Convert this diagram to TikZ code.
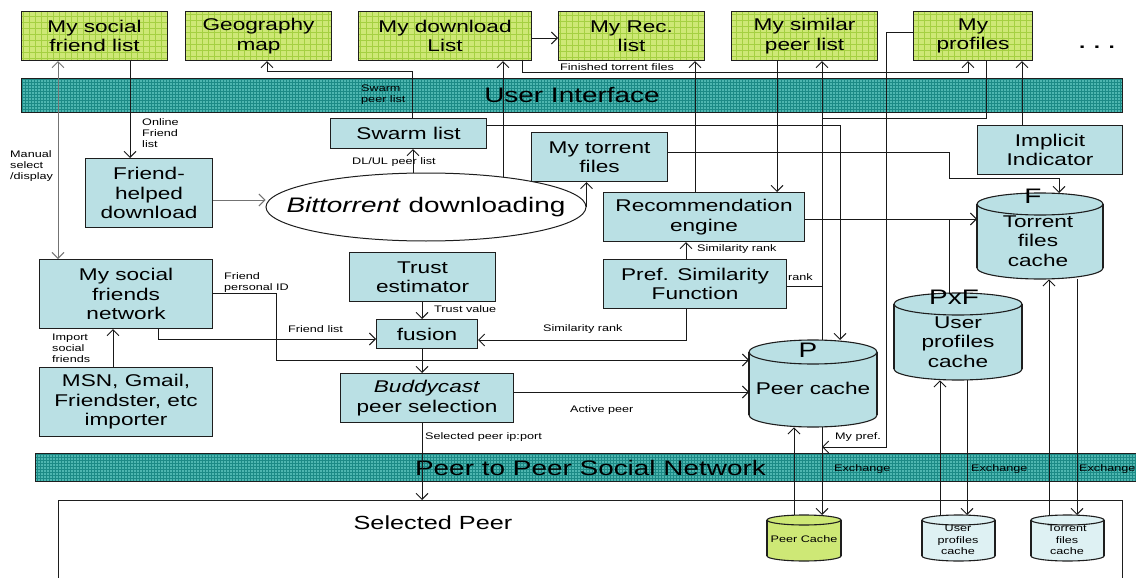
\documentclass[tikz,border=0pt]{standalone}
\usepackage{fontspec}
\setmainfont{Liberation Sans}[FakeStretch=1.33]
\usetikzlibrary{arrows.meta,shapes.geometric}
\definecolor{gfill}{RGB}{206,232,118}
\definecolor{ggrid}{RGB}{165,208,66}
\definecolor{tfill}{RGB}{78,182,176}
\definecolor{tgrid}{RGB}{28,138,134}
\definecolor{bfill}{RGB}{186,224,228}
\definecolor{lfill}{RGB}{222,241,243}
\definecolor{edgec}{RGB}{30,30,30}
\tikzset{
 mybig/.style={font=\fontsize{17}{19.5}\selectfont},
 mysmall/.style={font=\fontsize{9.5}{11}\selectfont},
 bxbase/.style={draw=edgec, line width=1.1pt, inner sep=0pt, align=center, anchor=north west, mybig},
 gbx/.style={bxbase, fill=gfill, path picture={\draw[ggrid, line width=0.35pt] (path picture bounding box.south west) grid[step=6pt] (path picture bounding box.north east);}},
 bbx/.style={bxbase, fill=bfill},
 barx/.style={draw=edgec, line width=1pt, fill=tfill, inner sep=0pt, anchor=north west, font=\fontsize{21}{24}\selectfont, path picture={\draw[tgrid, line width=0.45pt] (path picture bounding box.south west) grid[step=3pt] (path picture bounding box.north east);}},
 cylgeo/.style={inner sep=0pt, anchor=north west},
 lbl/.style={mysmall, anchor=west, inner sep=0pt, align=left},
 ctext/.style={mybig, align=center, inner sep=0pt},
 stext/.style={font=\fontsize{9.5}{11.5}\selectfont, align=center, inner sep=0pt},
 bigl/.style={font=\fontsize{21}{24}\selectfont, inner sep=0pt},
 arr/.style={draw=black!90, line width=0.9pt, -{Straight Barb[length=6pt,width=12pt]}},
 garr/.style={draw=black!55, line width=0.9pt, -{Straight Barb[length=6pt,width=12pt]}},
 darr/.style={draw=black!55, line width=0.9pt, {Straight Barb[length=6pt,width=12pt]}-{Straight Barb[length=6pt,width=12pt]}},
 ln/.style={draw=black!90, line width=0.9pt},
}
\newcommand\drawcyl[6]{%
 \pgfmathsetmacro\cylrx{(#3-#1)/2}%
 \pgfmathsetmacro\cylcx{(#1+#3)/2}%
 \filldraw[fill=#6, draw=edgec, line width=1.1pt] (\cylcx,#4-#5) ellipse[x radius=\cylrx, y radius=#5];
 \fill[#6] (#1,#2+#5) rectangle (#3,#4-#5);
 \draw[edgec, line width=1.1pt] (#1,#2+#5) -- (#1,#4-#5) (#3,#2+#5) -- (#3,#4-#5);
 \filldraw[fill=#6, draw=edgec, line width=1.1pt] (\cylcx,#2+#5) ellipse[x radius=\cylrx, y radius=#5];
}
\begin{document}
\begin{tikzpicture}[x=1pt,y=-1pt]
\useasboundingbox (0,0) rectangle (1136,578);
\fill[white] (0,0) rectangle (1136,578);

% Selected peer area
\node[draw=edgec, line width=1pt, inner sep=0pt, anchor=north west, minimum width=1064, minimum height=100] (sel) at (58,500) {};
\node[font=\fontsize{19}{22}\selectfont, inner sep=0pt] (selt) at (433,523) {Selected Peer};

% bars
\node[barx, minimum width=1101, minimum height=34] (ui) at (21,78) {User Interface};
\node[barx, minimum width=1110, minimum height=28] (p2p) at (35,453) {Peer to Peer Social Network};

% top green boxes
\node[gbx, minimum width=146, minimum height=49] (sfl) at (21,11) {My social\\friend list};
\node[gbx, minimum width=146, minimum height=49] (geo) at (185,11) {Geography\\map};
\node[gbx, minimum width=173, minimum height=49] (dl) at (358,11) {My download\\List};
\node[gbx, minimum width=146, minimum height=49] (rl) at (558,11) {My Rec.\\list};
\node[gbx, minimum width=146, minimum height=49] (sim) at (731,11) {My similar\\peer list};
\node[gbx, minimum width=119, minimum height=49] (prof) at (913,11) {My\\profiles};
\node[font=\fontsize{17}{20}\selectfont\bfseries, inner sep=0pt] (dots) at (1097,47) {. . .};

% blue boxes
\node[bbx, minimum width=156, minimum height=30] (swarm) at (330,118) {Swarm list};
\node[bbx, minimum width=136, minimum height=49] (mytor) at (531,132) {My torrent\\files};
\node[bbx, minimum width=127, minimum height=69] (fhd) at (85,158) {Friend-\\helped\\download};
\node[bbx, minimum width=201, minimum height=49] (reco) at (603,192) {Recommendation\\engine};
\node[bbx, minimum width=183, minimum height=49] (pref) at (603,259) {Pref. Similarity\\Function};
\node[bbx, minimum width=146, minimum height=49] (trust) at (349,252) {Trust\\estimator};
\node[bbx, minimum width=101, minimum height=29] (fusion) at (376,319) {fusion};
\node[bbx, minimum width=173, minimum height=49] (buddy) at (340,373) {\textit{Buddycast}\\peer selection};
\node[bbx, minimum width=173, minimum height=69] (sfn) at (39,259) {My social\\friends\\network};
\node[bbx, minimum width=173, minimum height=69] (msn) at (39,367) {MSN, Gmail,\\Friendster, etc\\importer};
\node[bbx, minimum width=145, minimum height=49] (impl) at (977,125) {Implicit\\Indicator};

% ellipse
\node[ellipse, draw=edgec, line width=1pt, fill=white, minimum width=320, minimum height=68, inner sep=0pt] (bt) at (426,207) {};
\node[font=\fontsize{21}{24}\selectfont, inner sep=0pt] (btt) at (426,207) {\textit{Bittorrent} downloading};

% cylinders
\drawcyl{977}{193}{1103}{279}{11}{bfill}
\drawcyl{894}{293}{1022}{380}{11}{bfill}
\drawcyl{749}{340}{877}{427}{12}{bfill}
\drawcyl{767}{515}{841}{561}{5}{gfill}
\drawcyl{922}{515}{995}{561}{5}{lfill}
\drawcyl{1031}{515}{1104}{561}{5}{lfill}
\node[cylgeo, minimum width=126, minimum height=86] (F) at (977,193) {};
\node[cylgeo, minimum width=128, minimum height=87] (PxF) at (894,293) {};
\node[cylgeo, minimum width=128, minimum height=87] (P) at (749,340) {};
\node[cylgeo, minimum width=74, minimum height=46] (pc) at (767,515) {};
\node[cylgeo, minimum width=73, minimum height=46] (upc) at (922,515) {};
\node[cylgeo, minimum width=73, minimum height=46] (tfc) at (1031,515) {};
\node[bigl] (Fl) at (1033,196) {F};
\node[bigl] (PxFl) at (954,297) {PxF};
\node[bigl] (Pl) at (808,350) {P};
\node[ctext] (Ft) at (1038,241) {Torrent\\files\\cache};
\node[ctext] (PxFt) at (958,342) {User\\profiles\\cache};
\node[ctext] (Pt) at (813,388) {Peer cache};
\node[stext] (pct) at (804,539) {Peer Cache};
\node[stext] (upct) at (958,540) {User\\profiles\\cache};
\node[stext] (tfct) at (1067,540) {Torrent\\files\\cache};

% junction coordinates
\coordinate (btdl) at (503,177);
\coordinate (jgeo) at (267,71);
\coordinate (jfin) at (968,72);
\coordinate (jprof) at (822,118);
\coordinate (jtor1) at (949,178);
\coordinate (jpx) at (949,219);
\coordinate (jrank) at (822,286);
\coordinate (jpid) at (276,360);
\coordinate (jpref1) at (886,447);
\coordinate (jpref2) at (822,447);

% connectors
\draw[darr] (sfl.south -| 58,0) -- (sfn.north -| 58,0);
\draw[arr] (sfl.south -| 130,0) -- (fhd.north -| 130,0);
\draw[arr] (msn.north -| 113,0) -- (sfn.south -| 113,0);
\draw[arr] (sfn.south -| 158,0) |- (fusion.west |- 0,339);
\draw[arr] (sfn.east |- 0,293) -| (jpid) -- (P.west |- 0,360);
\draw[arr] (trust.south -| 422,0) -- (fusion.north -| 422,0);
\draw[arr] (pref.south -| 686,0) |- (fusion.east |- 0,340);
\draw[arr] (fusion.south -| 422,0) -- (buddy.north -| 422,0);
\draw[arr] (buddy.east |- 0,392) -- (P.west |- 0,392);
\draw[arr] (buddy.south -| 422,0) -- (sel.north -| 422,0);
\draw[arr] (swarm.north -| 412,0) |- (jgeo) -- (geo.south -| 267,0);
\draw[arr] (bt.north -| 413,0) -- (swarm.south -| 413,0);
\draw[arr] (btdl) -- (dl.south -| 503,0);
\draw[arr] (dl.east |- 0,38) -- (rl.west |- 0,38);
\draw[arr] (dl.south -| 522,0) |- (jfin) -- (prof.south -| 968,0);
\draw[arr] (reco.north -| 695,0) -- (rl.south -| 695,0);
\draw[arr] (sim.south -| 777,0) -- (reco.north -| 777,0);
\draw[arr] (P.north -| 822,0) -- (sim.south -| 822,0);
\draw[ln] (prof.south -| 986,0) |- (jprof);
\draw[arr] (swarm.east |- 0,125) -| (P.north -| 840,0);
\draw[arr] (mytor.east |- 0,152) -| (jtor1) -| (F.north -| 1059,0);
\draw[arr] (reco.east |- 0,219) -- (F.west |- 0,219);
\draw[ln] (jpx) -- (PxF.north -| 949,0);
\draw[ln] (pref.east |- 0,286) -- (jrank);
\draw[arr] (pref.north -| 686,0) -- (reco.south -| 686,0);
\draw[arr] (prof.west |- 0,32) -| (jpref1) -- (jpref2);
\draw[arr] (impl.north -| 1022,0) -- (prof.south -| 1022,0);
\draw[arr] (bt.east) -- (mytor.south -| bt.east);
\draw[garr] (fhd.east |- 0,200) -- (bt.west |- 0,200);
\draw[arr] (pc.north -| 794,0) -- (P.south -| 794,0);
\draw[arr] (P.south -| 822,0) -- (pc.north -| 822,0);
\draw[arr] (upc.north -| 940,0) -- (PxF.south -| 940,0);
\draw[arr] (PxF.south -| 967,0) -- (upc.north -| 967,0);
\draw[arr] (tfc.north -| 1049,0) -- (F.south -| 1049,0);
\draw[arr] (F.south -| 1077,0) -- (tfc.north -| 1077,0);

% labels
\node[lbl] (l1) at (10,166) {Manual\\select\\/display};
\node[lbl] (l2) at (142,133) {Online\\Friend\\list};
\node[lbl] (l3) at (361,95) {Swarm\\peer list};
\node[lbl] (l4) at (352,162) {DL/UL peer list};
\node[lbl] (l5) at (560,67) {Finished torrent files};
\node[lbl] (l6) at (52,348) {Import\\social\\friends};
\node[lbl] (l7) at (224,283) {Friend\\personal ID};
\node[lbl] (l8) at (288,329) {Friend list};
\node[lbl] (l9) at (434,309) {Trust value};
\node[lbl] (l10) at (543,329) {Similarity rank};
\node[lbl] (l11) at (697,249) {Similarity rank};
\node[lbl] (l12) at (788,277) {rank};
\node[lbl] (l13) at (570,410) {Active peer};
\node[lbl] (l14) at (425,437) {Selected peer ip:port};
\node[lbl] (l15) at (835,437) {My pref.};
\node[lbl] (l16) at (834,469) {Exchange};
\node[lbl] (l17) at (971,469) {Exchange};
\node[lbl] (l18) at (1079,469) {Exchange};
\end{tikzpicture}
\end{document}
